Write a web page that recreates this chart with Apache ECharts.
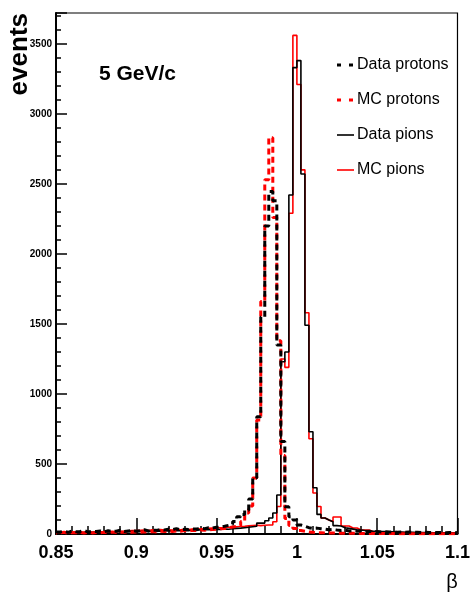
<!DOCTYPE html>
<html><head><meta charset="utf-8">
<script src="https://cdn.jsdelivr.net/npm/echarts@6.0.0/dist/echarts.min.js"></script>
<style>html,body{margin:0;padding:0;background:#fff}#c{width:473px;height:597px}</style>
</head><body><div id="c"></div>
<script>
// Histogram binning (100 bins of width 0.0025 from 0.85 to 1.1)
const BIN_MIN = 0.85, BIN_MAX = 1.1, BIN_WIDTH = 0.0025;
const seriesNames = ['Data protons', 'MC protons', 'Data pions', 'MC pions'];

const dataProtons = [
  14, 20, 12, 22, 16, 18, 25, 14, 20, 18,
  22, 16, 24, 18, 20, 28, 18, 22, 26, 20,
  24, 30, 22, 28, 26, 32, 28, 35, 30, 38,
  30, 34, 32, 36, 35, 40, 38, 44, 42, 48,
  50, 55, 62, 70, 90, 124, 140, 170, 250, 400,
  838, 1550, 2200, 2445, 2380, 1350, 660, 195, 124, 100,
  64, 55, 45, 40, 42, 38, 35, 30, 32, 28,
  25, 27, 22, 24, 20, 22, 18, 20, 16, 18,
  15, 17, 14, 16, 13, 15, 12, 14, 12, 13,
  11, 13, 10, 12, 10, 11, 9, 11, 9, 10
];
const mcProtons = [
  8, 12, 6, 10, 9, 11, 7, 12, 8, 10,
  9, 12, 10, 14, 11, 13, 12, 15, 12, 14,
  13, 16, 14, 18, 15, 19, 17, 20, 18, 22,
  20, 24, 22, 26, 24, 28, 27, 30, 32, 35,
  38, 40, 45, 50, 55, 60, 90, 150, 200, 400,
  814, 1660, 2530, 2830, 2260, 1380, 560, 110, 60, 40,
  25, 20, 15, 12, 10, 9, 8, 8, 7, 7,
  6, 6, 5, 5, 5, 4, 4, 4, 4, 3,
  3, 3, 3, 3, 2, 2, 2, 2, 2, 2,
  2, 2, 1, 1, 1, 1, 1, 1, 1, 1
];
const dataPions = [
  10, 14, 12, 9, 15, 11, 13, 16, 12, 14,
  15, 13, 17, 14, 16, 18, 15, 17, 19, 16,
  18, 20, 17, 21, 19, 22, 20, 24, 21, 25,
  23, 26, 24, 28, 26, 30, 28, 32, 30, 34,
  32, 36, 34, 38, 40, 42, 45, 48, 52, 55,
  78, 78, 95, 114, 150, 279, 1230, 1300, 2420, 3330,
  3380, 2570, 1490, 730, 330, 140, 114, 100, 88, 60,
  57, 45, 40, 35, 30, 28, 25, 22, 20, 20,
  18, 17, 16, 15, 14, 14, 13, 12, 12, 11,
  11, 10, 10, 9, 9, 9, 8, 8, 8, 7
];
const mcPions = [
  8, 10, 9, 11, 10, 12, 11, 13, 12, 14,
  13, 15, 14, 16, 15, 18, 20, 22, 25, 24,
  26, 28, 25, 30, 27, 32, 29, 30, 28, 32,
  30, 34, 32, 36, 34, 38, 36, 40, 42, 44,
  45, 46, 48, 50, 52, 54, 55, 58, 60, 62,
  60, 62, 64, 64, 88, 196, 1250, 1190, 2290, 3560,
  3210, 2600, 1580, 680, 293, 196, 114, 100, 88, 121,
  121, 57, 57, 43, 43, 29, 29, 29, 16, 16,
  15, 14, 13, 12, 12, 11, 10, 10, 9, 9,
  8, 8, 7, 7, 6, 6, 6, 5, 5, 5
];
const Y_MAX = 3720;

function hasFont(name) {
  const c = document.createElement('canvas').getContext('2d');
  const s = 'Data protons 0.85 3500';
  c.font = '40px monospace';
  const a = c.measureText(s).width;
  c.font = "40px '" + name + "', monospace";
  const b = c.measureText(s).width;
  return Math.abs(a - b) > 0.5;
}
const narrow = hasFont('Liberation Sans Narrow');
const NF = narrow ? "'Liberation Sans Narrow', 'Liberation Sans', sans-serif" : "'Liberation Sans', Arial, sans-serif";
const NS = narrow ? 1 : 0.86;
const RF = "'Liberation Sans', Arial, sans-serif";

function histo(vals) {
  const pts = vals.map((v, k) => [+(BIN_MIN + k * BIN_WIDTH).toFixed(4), v]);
  pts.push([BIN_MAX, vals[vals.length - 1]]);
  return pts;
}

const styles = {
  'Data protons': { color: '#000', width: 3, type: [6, 4] },
  'MC protons': { color: '#ff0000', width: 3, type: [6, 4], dashOffset: 5 },
  'Data pions': { color: '#000', width: 1.6, type: 'solid' },
  'MC pions': { color: '#ff0000', width: 1.6, type: 'solid' }
};

// legend drawn as graphic elements
const legendGraphics = [];
seriesNames.forEach((name, i) => {
  const cy = 65 + i * 35;
  const st = styles[name];
  legendGraphics.push({
    type: 'line', shape: { x1: 337, y1: cy, x2: 354, y2: cy },
    style: { stroke: st.color, lineWidth: st.width === 3 ? 3 : 1.6, lineDash: st.width === 3 ? [4, 8] : null }
  });
  legendGraphics.push({
    type: 'text', x: 357, y: cy,
    style: { text: name, font: '16px ' + RF, fill: '#000', align: 'left', verticalAlign: 'middle' }
  });
});

const G = { left: 56, right: 15, top: 13, bottom: 63 };
const chart = echarts.init(document.getElementById('c'), null, { renderer: 'canvas' });
chart.setOption({
  animation: false,
  backgroundColor: '#fff',
  grid: [
    Object.assign({ show: true, borderColor: '#000', borderWidth: 1.2, backgroundColor: 'transparent' }, G),
    Object.assign({ show: false }, G)
  ],
  xAxis: [{
    type: 'value', gridIndex: 0, min: BIN_MIN, max: BIN_MAX, interval: 0.05,
    axisLine: { show: true, onZero: false, lineStyle: { color: '#000', width: 2 } },
    axisTick: { show: true, inside: true, length: 16, lineStyle: { color: '#000', width: 1.5 } },
    minorTick: { show: true, splitNumber: 5, length: 8, lineStyle: { color: '#000', width: 1.5 } },
    splitLine: { show: false },
    axisLabel: { color: '#000', fontWeight: 'bold', fontFamily: NF, fontSize: Math.round(21 * NS), margin: 10 }
  }, {
    type: 'value', gridIndex: 1, min: BIN_MIN, max: BIN_MAX, show: false
  }],
  yAxis: [{
    type: 'value', gridIndex: 0, min: 0, max: Y_MAX, interval: 500,
    axisLine: { show: true, onZero: false, lineStyle: { color: '#000', width: 2 } },
    axisTick: { show: true, inside: true, length: 11, lineStyle: { color: '#000', width: 1.5 } },
    splitLine: { show: false },
    axisLabel: {
      color: '#000', fontWeight: 'bold', fontFamily: NF, fontSize: Math.round(12 * NS), margin: 4,
      formatter: v => (v % 500 === 0 ? String(v) : '')
    }
  }, {
    type: 'value', gridIndex: 1, min: 0, max: Y_MAX, interval: 100, position: 'left',
    axisLine: { show: false },
    axisTick: { show: true, inside: true, length: 5, lineStyle: { color: '#000', width: 1.5 } },
    axisLabel: { show: false },
    splitLine: { show: false }
  }],
  series: [
    { name: 'MC pions', type: 'line', step: 'end', symbol: 'none', data: histo(mcPions),
      lineStyle: styles['MC pions'], z: 2 },
    { name: 'Data pions', type: 'line', step: 'end', symbol: 'none', data: histo(dataPions),
      lineStyle: styles['Data pions'], z: 3 },
    { name: 'MC protons', type: 'line', step: 'end', symbol: 'none', data: histo(mcProtons),
      lineStyle: styles['MC protons'], z: 4 },
    { name: 'Data protons', type: 'line', step: 'end', symbol: 'none', data: histo(dataProtons),
      lineStyle: styles['Data protons'], z: 5 }
  ],
  graphic: [
    { type: 'text', left: 99, top: 64, style: { text: '5 GeV/c', font: 'bold 21px ' + RF, fill: '#000' } },
    { type: 'text', x: 7, y: 13, rotation: Math.PI / 2,
      style: { text: 'events', font: 'bold 26px ' + RF, fill: '#000', align: 'right', verticalAlign: 'top' } },
    { type: 'text', x: 452, y: 582,
      style: { text: 'β', font: '20px ' + RF, fill: '#000', align: 'center', verticalAlign: 'middle' } }
  ].concat(legendGraphics)
});
</script></body></html>
